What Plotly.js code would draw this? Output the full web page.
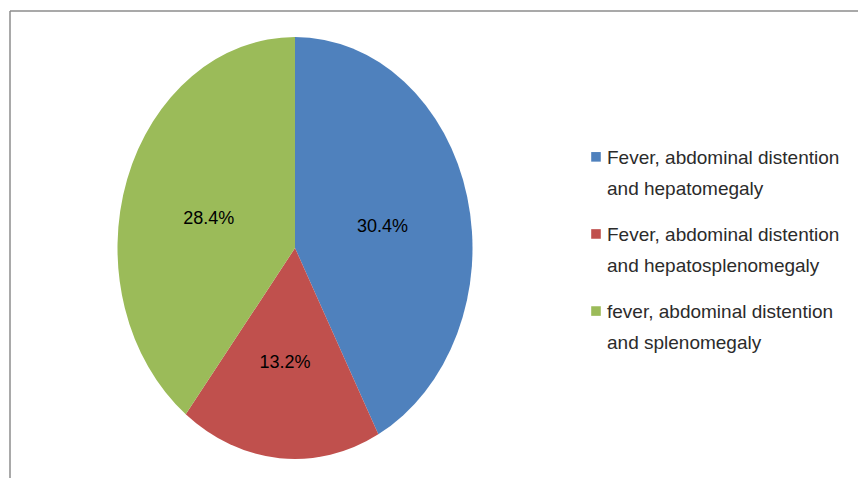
<!DOCTYPE html>
<html>
<head>
<meta charset="utf-8">
<script src="https://cdn.plot.ly/plotly-3.0.1.min.js"></script>
<style>
html, body { margin: 0; padding: 0; background: #fff; }
#chart { width: 858px; height: 478px; }
</style>
</head>
<body>
<div id="chart"></div>
<script>
// ---- data ----
const categories = [
  "Fever, abdominal distention<br>and hepatomegaly<br>",
  "Fever, abdominal distention<br>and hepatosplenomegaly<br>",
  "fever, abdominal distention<br>and splenomegaly<br>"
];
const values = [30.4, 13.2, 28.4];
const valueLabels = ["30.4%", "13.2%", "28.4%"];
const colors = ["#4F81BD", "#C0504D", "#9BBB59"];

const W = 858, H = 478;
// pie circle geometry (before vertical stretch)
const cxPx = 295, cyPx = 248, rPx = 177.5, stretch = 422 / 355;

const trace = {
  type: "pie",
  labels: categories,
  values: values,
  text: valueLabels,
  textinfo: "text",
  textposition: "inside",
  insidetextorientation: "horizontal",
  sort: false,
  direction: "clockwise",
  rotation: 0,
  marker: { colors: colors, line: { width: 0 } },
  textfont: { family: "Liberation Sans, Arial, sans-serif", size: 18, color: "#000" },
  hoverinfo: "none",
  domain: {
    x: [(cxPx - rPx) / W, (cxPx + rPx) / W],
    y: [(H - cyPx - rPx) / H, (H - cyPx + rPx) / H]
  }
};

const layout = {
  width: W, height: H,
  margin: { l: 0, r: 0, t: 0, b: 0 },
  paper_bgcolor: "#fff",
  showlegend: true,
  legend: {
    x: (607 - 40) / W, xanchor: "left",
    y: 1 - 138 / H, yanchor: "top",
    valign: "top",
    font: { family: "Liberation Sans, Arial, sans-serif", size: 19, color: "#2b2b2b" },
    bgcolor: "rgba(0,0,0,0)"
  },
  shapes: [
    { type: "line", xref: "paper", yref: "paper", x0: 10 / W, x1: 1, y0: 1 - 11 / H, y1: 1 - 11 / H,
      line: { color: "#8c8c8c", width: 1.5 } },
    { type: "line", xref: "paper", yref: "paper", x0: 10 / W, x1: 10 / W, y0: 1 - 11 / H, y1: 0,
      line: { color: "#8c8c8c", width: 1.5 } }
  ]
};

const gd = document.getElementById("chart");
Plotly.newPlot(gd, [trace], layout, { displayModeBar: false, staticPlot: true }).then(() => {
  // stretch the pie vertically (the original pie is an ellipse)
  const paths = gd.querySelectorAll(".pielayer path.surface");
  let top = Infinity, bot = -Infinity;
  paths.forEach(p => { const r = p.getBoundingClientRect(); top = Math.min(top, r.top); bot = Math.max(bot, r.bottom); });
  const cy = (top + bot) / 2;
  paths.forEach(p => {
    p.setAttribute("transform", `translate(0,${cy}) scale(1,${stretch}) translate(0,${-cy})`);
  });
  // legend: slightly looser line spacing inside each entry
  gd.querySelectorAll(".legend text.legendtext").forEach(t => {
    const lines = t.querySelectorAll("tspan.line");
    if (lines.length > 1) {
      const dy = lines[1].getAttribute("dy");
      if (dy && /em$/.test(dy)) {
        const v = parseFloat(dy);
        lines[1].setAttribute("dy", (v * 1.63 / 1.3) + "em");
      }
    }
  });
  // legend swatches: smaller and a bit away from the text
  gd.querySelectorAll(".legend .legendpoints").forEach(g => {
    g.setAttribute("transform", "translate(13,0) scale(0.8)");
  });
});
</script>
</body>
</html>
